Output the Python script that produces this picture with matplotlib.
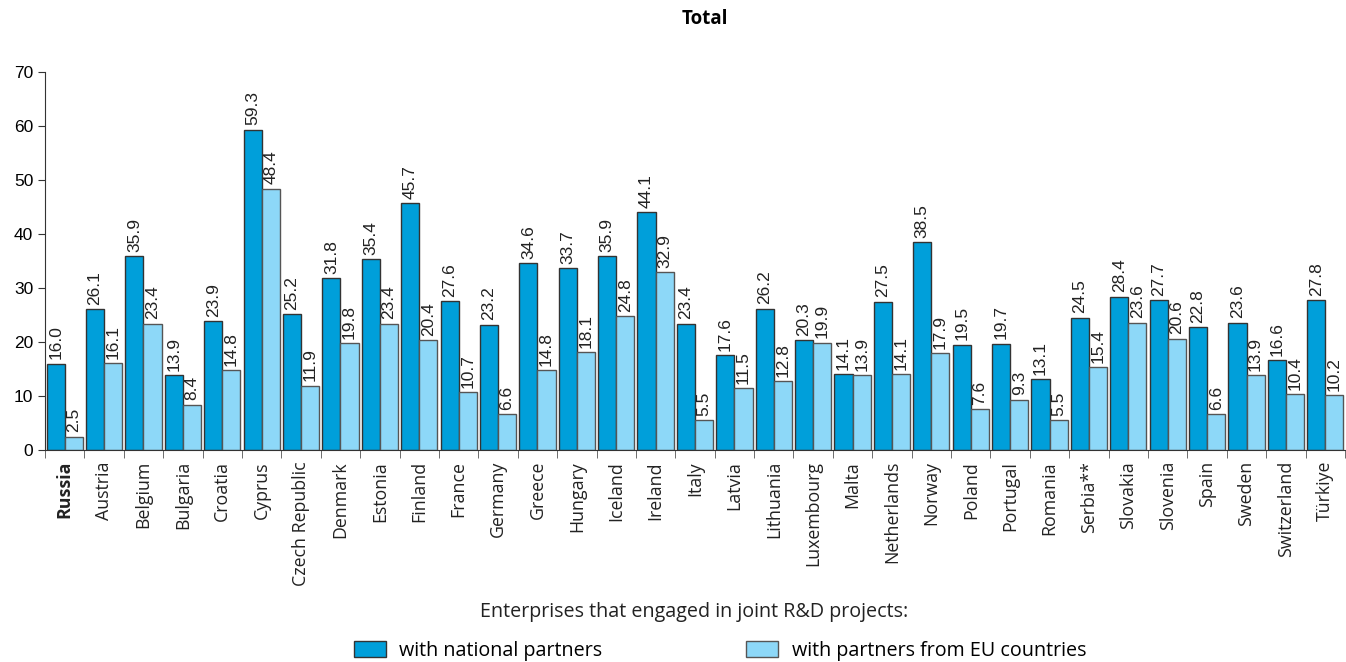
import matplotlib.pyplot as plt
import numpy as np

countries = ['Russia', 'Austria', 'Belgium', 'Bulgaria', 'Croatia', 'Cyprus', 'Czech Republic',
             'Denmark', 'Estonia', 'Finland', 'France', 'Germany', 'Greece', 'Hungary', 'Iceland',
             'Ireland', 'Italy', 'Latvia', 'Lithuania', 'Luxembourg', 'Malta', 'Netherlands',
             'Norway', 'Poland', 'Portugal', 'Romania', 'Serbia**', 'Slovakia', 'Slovenia',
             'Spain', 'Sweden', 'Switzerland', 'Türkiye']
national = [16.0, 26.1, 35.9, 13.9, 23.9, 59.3, 25.2, 31.8, 35.4, 45.7, 27.6, 23.2, 34.6, 33.7,
            35.9, 44.1, 23.4, 17.6, 26.2, 20.3, 14.1, 27.5, 38.5, 19.5, 19.7, 13.1, 24.5, 28.4,
            27.7, 22.8, 23.6, 16.6, 27.8]
eu = [2.5, 16.1, 23.4, 8.4, 14.8, 48.4, 11.9, 19.8, 23.4, 20.4, 10.7, 6.6, 14.8, 18.1, 24.8,
      32.9, 5.5, 11.5, 12.8, 19.9, 13.9, 14.1, 17.9, 7.6, 9.3, 5.5, 15.4, 23.6, 20.6, 6.6,
      13.9, 10.4, 10.2]

dark = '#009fda'
light = '#8dd8f8'

fig = plt.figure(figsize=(13.46, 6.62), dpi=100)
ax = fig.add_axes([45 / 1346, 1 - 450 / 662, 1300 / 1346, 378 / 662])

x = np.arange(len(countries))
w = 0.46
b1 = ax.bar(x - w / 2, national, w, color=dark, edgecolor='#333333', linewidth=1)
b2 = ax.bar(x + w / 2, eu, w, color=light, edgecolor='#555555', linewidth=1)

# value labels above bars, rotated
for bars, vals in ((b1, national), (b2, eu)):
    for r, v in zip(bars, vals):
        ax.text(r.get_x() + r.get_width() / 2, v + 0.8, f'{v:.1f}', rotation=90,
                ha='center', va='bottom', fontsize=12.5, family='Liberation Sans', color='#222222')

ax.set_xlim(-0.5, len(countries) - 0.5)
ax.set_ylim(0, 70)
ax.set_yticks(range(0, 71, 10))
ax.tick_params(axis='y', labelsize=12.5, length=5, color='#333333')
for t in ax.get_yticklabels():
    t.set_family('Liberation Sans')

ax.set_xticks(x)
ax.set_xticklabels(countries, rotation=90, fontsize=12.8, family='Open Sans', color='#222222')
ax.get_xticklabels()[0].set_fontweight('bold')
ax.tick_params(axis='x', length=0, pad=8)
ax.set_xticks(np.arange(-0.5, len(countries), 1), minor=True)
ax.tick_params(axis='x', which='minor', length=6, color='#555555')

for s in ['top', 'right']:
    ax.spines[s].set_visible(False)
ax.spines['left'].set_color('#333333')
ax.spines['bottom'].set_color('#333333')

fig.text(0.524, 0.972, 'Total', ha='center', va='center', fontsize=13.5, fontweight='bold',
         family='Open Sans')
fig.text(0.516, 0.075, 'Enterprises that engaged in joint R&D projects:', ha='center',
         va='center', fontsize=14.2, family='Open Sans', color='#222222')
fig.legend([b1, b2], ['with national partners', 'with partners from EU countries'],
           loc='center', bbox_to_anchor=(0.535, 0.017), ncol=2, frameon=False,
           prop={'family': 'Open Sans', 'size': 14.2}, columnspacing=7.3,
           handlelength=1.6, handleheight=0.9, handletextpad=0.7)

fig.savefig('out.png', dpi=100)
